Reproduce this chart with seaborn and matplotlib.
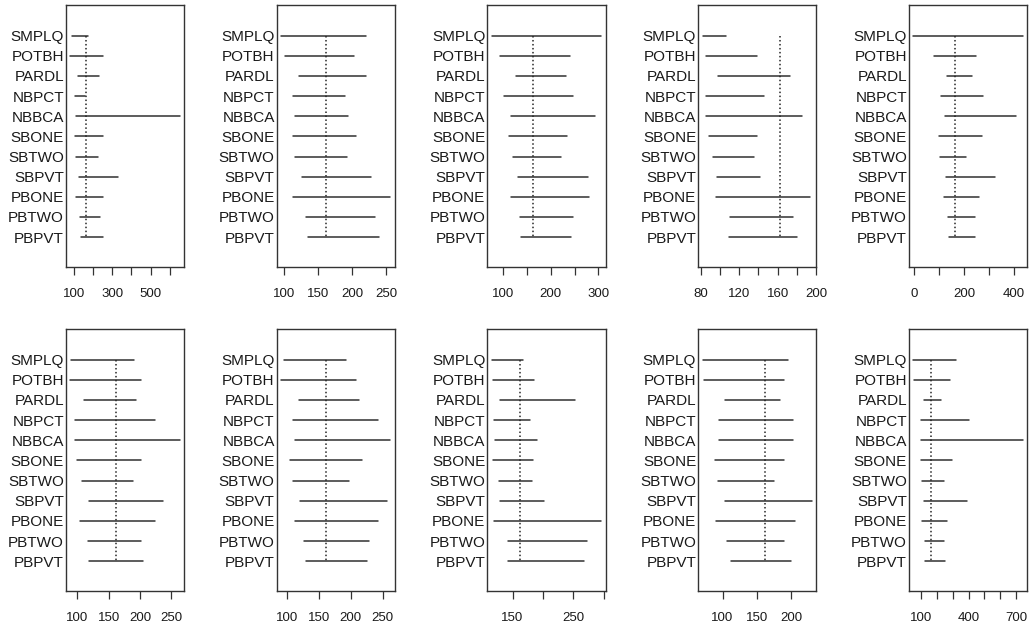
import pandas as pd
import seaborn as sns
import matplotlib.pyplot as plt

cats = ["SMPLQ", "POTBH", "PARDL", "NBPCT", "NBBCA", "SBONE",
        "SBTWO", "SBPVT", "PBONE", "PBTWO", "PBPVT"]
ref_value = 162

# interval ends per panel
p1_lo = [88, 80, 119, 102, 107, 102, 107, 123, 107, 128, 137]
p1_hi = [170, 253, 231, 159, 652, 253, 224, 330, 253, 236, 253]
p2_lo = [96, 101, 122, 114, 117, 113, 117, 126, 113, 132, 135]
p2_hi = [221, 202, 221, 190, 194, 205, 192, 228, 256, 233, 239]
p3_lo = [76, 94, 126, 102, 116, 113, 121, 132, 116, 135, 138]
p3_hi = [306, 240, 231, 247, 293, 235, 221, 279, 281, 247, 242]
p4_lo = [82, 86, 98, 86, 86, 89, 93, 97, 96, 110, 109]
p4_hi = [106, 139, 173, 146, 185, 139, 135, 142, 194, 176, 180]
p5_lo = [-3, 78, 132, 108, 123, 100, 104, 128, 118, 136, 141]
p5_hi = [435, 250, 231, 277, 409, 273, 209, 323, 259, 245, 245]
p6_lo = [90, 89, 110, 96, 96, 100, 108, 119, 105, 117, 119]
p6_hi = [190, 202, 193, 224, 263, 201, 188, 237, 224, 202, 205]
p7_lo = [95, 91, 119, 110, 113, 105, 110, 121, 112, 127, 130]
p7_hi = [192, 208, 213, 242, 262, 217, 198, 257, 243, 228, 226]
p8_lo = [116, 118, 130, 120, 121, 118, 127, 129, 120, 143, 143]
p8_hi = [168, 186, 253, 179, 190, 184, 182, 202, 296, 273, 268]
p9_lo = [71, 73, 104, 95, 95, 89, 94, 104, 91, 107, 112]
p9_hi = [195, 189, 183, 203, 203, 189, 175, 230, 206, 189, 200]
p10_lo = [51, 58, 119, 98, 98, 98, 104, 119, 104, 125, 125]
p10_hi = [318, 284, 225, 405, 742, 297, 242, 392, 263, 242, 248]

# axis ticks per panel (R drops labels that would overlap)
p1_ticks = [100, 200, 300, 400, 500, 600]
p1_labels = ["100", "", "300", "", "500", ""]
p2_ticks = [100, 150, 200, 250]
p2_labels = ["100", "150", "200", "250"]
p3_ticks = [100, 150, 200, 250, 300]
p3_labels = ["100", "", "200", "", "300"]
p4_ticks = [80, 100, 120, 140, 160, 180, 200]
p4_labels = ["80", "", "120", "", "160", "", "200"]
p5_ticks = [0, 100, 200, 300, 400]
p5_labels = ["0", "", "200", "", "400"]
p6_ticks = [100, 150, 200, 250]
p6_labels = ["100", "150", "200", "250"]
p7_ticks = [100, 150, 200, 250]
p7_labels = ["100", "150", "200", "250"]
p8_ticks = [150, 200, 250, 300]
p8_labels = ["150", "", "250", ""]
p9_ticks = [100, 150, 200]
p9_labels = ["100", "150", "200"]
p10_ticks = [100, 200, 300, 400, 500, 600, 700]
p10_labels = ["100", "", "", "400", "", "", "700"]

panels = [
    (p1_lo, p1_hi, p1_ticks, p1_labels),
    (p2_lo, p2_hi, p2_ticks, p2_labels),
    (p3_lo, p3_hi, p3_ticks, p3_labels),
    (p4_lo, p4_hi, p4_ticks, p4_labels),
    (p5_lo, p5_hi, p5_ticks, p5_labels),
    (p6_lo, p6_hi, p6_ticks, p6_labels),
    (p7_lo, p7_hi, p7_ticks, p7_labels),
    (p8_lo, p8_hi, p8_ticks, p8_labels),
    (p9_lo, p9_hi, p9_ticks, p9_labels),
    (p10_lo, p10_hi, p10_ticks, p10_labels),
]

sns.set_style("white")
plt.rcParams["font.family"] = ["Liberation Sans", "DejaVu Sans"]

fig, axes = plt.subplots(2, 5, figsize=(10.3, 6.28), dpi=100)
fig.subplots_adjust(left=66/1030, right=1027/1030, top=1-5/628,
                    bottom=1-591/628, wspace=0.786, hspace=0.237)

rows = list(range(len(cats)))

for ax, (lo, hi, ticks, labels) in zip(axes.flat, panels):
    df = pd.DataFrame({"var": cats * 2, "row": rows * 2, "value": lo + hi})
    sns.lineplot(data=df, x="value", y="row", units="var", estimator=None,
                 sort=False, color="#303030", lw=1.1, ax=ax, legend=False)
    ax.vlines(ref_value, 0, len(cats) - 1, colors="#262626",
              linestyles=(0, (1, 1.6)), lw=1.1)

    # R style: pad data range by 4%
    vmin, vmax = min(lo), max(hi)
    pad = 0.04 * (vmax - vmin)
    ax.set_xlim(vmin - pad, vmax + pad)
    ax.set_ylim(len(cats) - 1 + 1.48, -1.52)

    ax.set_xticks(ticks)
    ax.set_xticklabels(labels)
    ax.set_yticks(rows)
    ax.set_yticklabels(cats)
    ax.tick_params(axis="x", direction="out", length=5.8, width=0.9,
                   color="#333333", pad=9.5, labelsize=9.5, bottom=True,
                   labelcolor="#1a1a1a")
    ax.tick_params(axis="y", length=0, pad=1.5, labelsize=11,
                   labelcolor="#1a1a1a")
    ax.set_xlabel("")
    ax.set_ylabel("")
    for s in ax.spines.values():
        s.set_color("#333333")
        s.set_linewidth(1.0)

plt.savefig("out.png", dpi=100)
